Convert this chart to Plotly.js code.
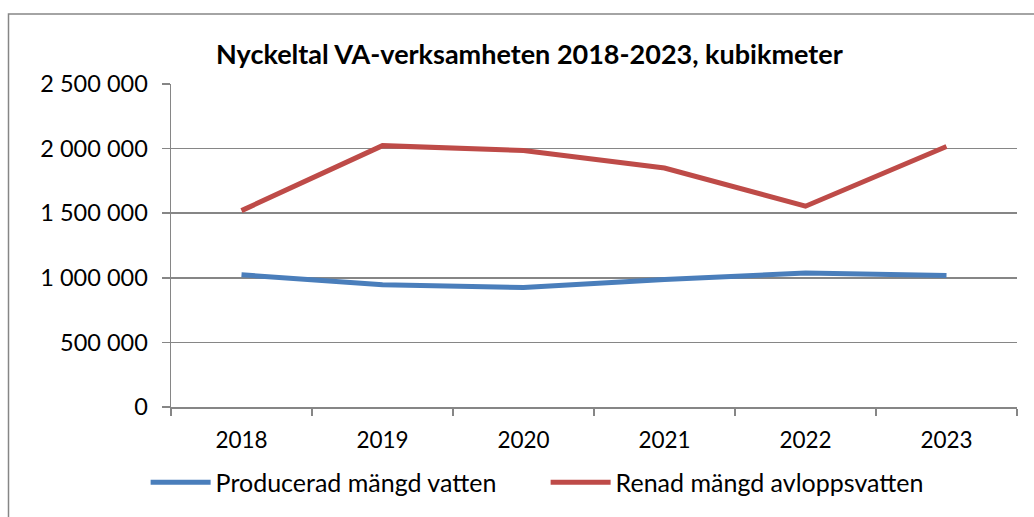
<!DOCTYPE html>
<html>
<head>
<meta charset="utf-8">
<script src="https://cdn.plot.ly/plotly-3.0.1.min.js"></script>
<style>
html,body{margin:0;padding:0;background:#fff;}
#chart{width:1034px;height:517px;}
</style>
</head>
<body>
<div id="chart"></div>
<script>
const years = ['2018', '2019', '2020', '2021', '2022', '2023'];
const produceradVatten = [1023000, 946000, 924000, 987000, 1037000, 1018000];
const renadAvlopp = [1520000, 2023000, 1985000, 1850000, 1554000, 2016000];
const seriesNames = ['Producerad mängd vatten', 'Renad mängd avloppsvatten'];
const titleText = 'Nyckeltal VA-verksamheten 2018-2023, kubikmeter';

const FONT = 'Lato, "Open Sans", sans-serif';
const GRID = '#868686';

const traces = [
  {x: years, y: produceradVatten, name: seriesNames[0], type: 'scatter', mode: 'lines',
   line: {color: '#4A7EBB', width: 5}},
  {x: years, y: renadAvlopp, name: seriesNames[1], type: 'scatter', mode: 'lines',
   line: {color: '#BE4B48', width: 5}}
];

const layout = {
  width: 1034, height: 517,
  margin: {l: 171, r: 17, t: 84, b: 108, pad: 0},
  paper_bgcolor: '#fff', plot_bgcolor: '#fff',
  separators: ', ',
  font: {family: FONT, size: 23, color: '#000'},
  title: {text: '<b>' + titleText + '</b>', font: {family: FONT, size: 27, color: '#000'},
          x: 0.512, xref: 'container', xanchor: 'center', y: 1 - 55/517, yref: 'container', yanchor: 'middle'},
  xaxis: {type: 'category', range: [-0.5, 5.5], tickson: 'boundaries', ticks: 'outside', ticklen: 7,
          tickwidth: 1.5, tickcolor: GRID, showline: true, linecolor: GRID, linewidth: 1.5,
          showgrid: false, zeroline: false, ticklabelstandoff: 12, fixedrange: true,
          tickfont: {family: FONT, size: 22.5, color: '#000'}},
  yaxis: {range: [0, 2500000], dtick: 500000, tick0: 0, tickformat: ',d', ticks: 'outside', ticklen: 8,
          tickwidth: 1.5, tickcolor: GRID, showline: true, linecolor: GRID, linewidth: 1.5,
          showgrid: true, gridcolor: GRID, gridwidth: 1.5, zeroline: false, ticklabelstandoff: 9, fixedrange: true,
          tickfont: {family: FONT, size: 23.5, color: '#000'}},
  showlegend: true,
  legend: {orientation: 'h', x: -0.03, xanchor: 'left', y: -0.234, yanchor: 'middle', yref: 'paper',
           font: {family: FONT, size: 25, color: '#000'}, itemwidth: 60, entrywidth: 325, bgcolor: 'rgba(0,0,0,0)'},
  shapes: [
    {type: 'rect', xref: 'paper', yref: 'paper', x0: (8.5-171)/846, x1: (1045-171)/846,
     y0: (409-540)/325, y1: (409-13.5)/325, line: {color: GRID, width: 1.5}, fillcolor: 'rgba(0,0,0,0)', layer: 'below'}
  ]
};

Plotly.newPlot('chart', traces, layout, {displayModeBar: false, staticPlot: true});
</script>
</body>
</html>
